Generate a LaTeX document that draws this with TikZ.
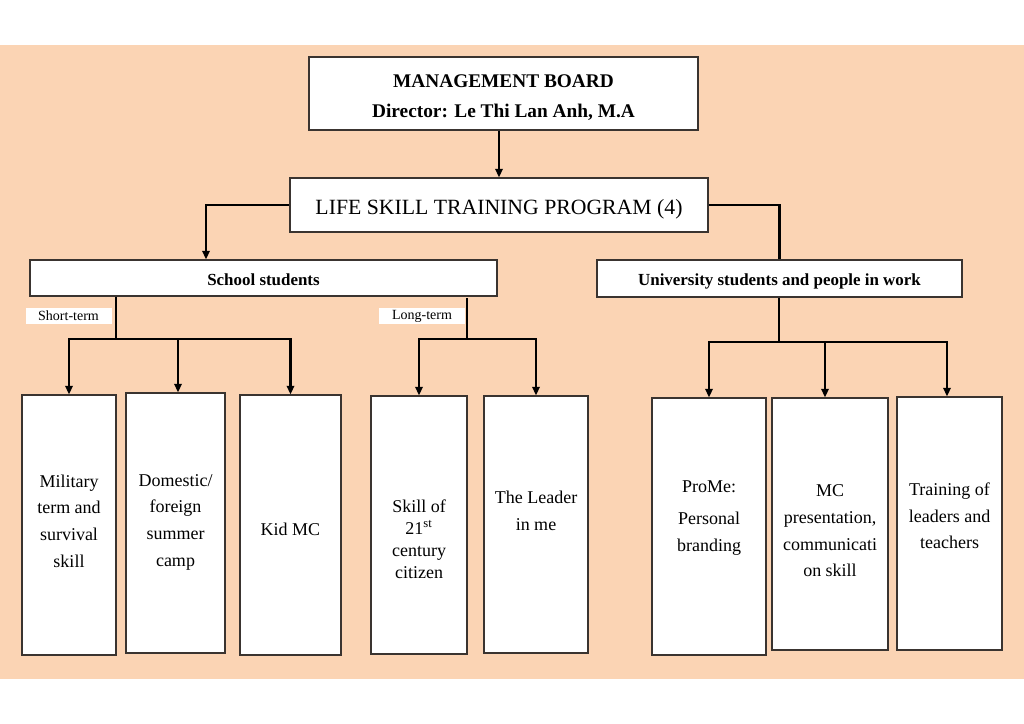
\documentclass[tikz,border=0pt]{standalone}
\usepackage{fontspec}
\setmainfont{Liberation Serif}
\usetikzlibrary{arrows.meta,calc}
\definecolor{peach}{HTML}{FBD4B4}
\definecolor{boxline}{HTML}{3A3430}
\begin{document}
\begin{tikzpicture}[x=0.75pt,y=-0.75pt,
  box/.style={draw=boxline, line width=0.8pt, fill=white, inner sep=0pt, align=center},
  conn/.style={line width=1.7pt, black},
  arr/.style={conn, -{Triangle[length=6.5pt,width=5.5pt]}},
  lbl/.style={align=center, font=\fontsize{13.5}{20}\selectfont, inner sep=0pt},
  tag/.style={fill=white, inner sep=0pt, font=\fontsize{10.5}{12}\selectfont},
]
\useasboundingbox (0,0) rectangle (1024,724);
\fill[white] (0,0) rectangle (1024,724);
\fill[peach] (0,45) rectangle (1024,679);

% top boxes
\node[box, line width=1pt, minimum width=389*0.75pt, minimum height=73*0.75pt] (mb) at (503.5,93.5) {};
\node[inner sep=0pt, align=center, font=\bfseries\fontsize{14.5}{22.5}\selectfont] (mbt) at (503.5,97.5)
      {MANAGEMENT BOARD\\Director: Le Thi Lan Anh, M.A};
\node[box, minimum width=418*0.75pt, minimum height=54*0.75pt] (life) at (499,205) {};
\node[inner sep=0pt, font=\fontsize{16.3}{20}\selectfont] (lifet) at (499,209) {LIFE SKILL TRAINING PROGRAM (4)};
\node[box, minimum width=467*0.75pt, minimum height=36*0.75pt] (school) at (263.5,278) {};
\node[inner sep=0pt, font=\bfseries\fontsize{12.7}{15}\selectfont] (schoolt) at (263.5,280) {School students};
\node[box, minimum width=365*0.75pt, minimum height=37*0.75pt] (univ) at (779.5,278.5) {};
\node[inner sep=0pt, font=\bfseries\fontsize{12.7}{15}\selectfont] (univt) at (779.5,281) {University students and people in work};

% tags
\node[tag, minimum width=86*0.75pt, minimum height=16*0.75pt] (st) at (68.5,316) {Short-term};
\node[tag, minimum width=86*0.75pt, minimum height=16*0.75pt] (lt) at (422,316) {Long-term};

% bottom boxes
\node[box, minimum width=94*0.75pt,  minimum height=260*0.75pt] (b1) at (69,525) {};
\node[box, minimum width=99*0.75pt,  minimum height=260*0.75pt] (b2) at (175.5,523) {};
\node[box, minimum width=101*0.75pt, minimum height=260*0.75pt] (b3) at (290.5,525) {};
\node[box, minimum width=96*0.75pt,  minimum height=258*0.75pt] (b4) at (419,525) {};
\node[box, minimum width=104*0.75pt, minimum height=257*0.75pt] (b5) at (536,524.5) {};
\node[box, minimum width=114*0.75pt, minimum height=257*0.75pt] (b6) at (709,526.5) {};
\node[box, minimum width=116*0.75pt, minimum height=252*0.75pt] (b7) at (830,524) {};
\node[box, minimum width=105*0.75pt, minimum height=253*0.75pt] (b8) at (949.5,523.5) {};

% labels
\node[lbl] (t1) at (69,521) {Military\\term and\\survival\\skill};
\node[lbl] (t2) at (175.5,522) {Domestic/\\foreign\\summer\\camp};
\node[lbl] (t3) at (290.5,529) {Kid MC};
\node[lbl, font=\fontsize{13.5}{16.5}\selectfont] (t4) at (419,539) {Skill of\\21\textsuperscript{st}\\century\\citizen};
\node[lbl] (t5) at (536,511) {The Leader\\in me};
\node[lbl] (t6) at (709,518) {ProMe:\\[4pt]Personal\\branding};
\node[lbl] (t7) at (830,531) {MC\\presentation,\\communicati\\on skill};
\node[lbl] (t8) at (949.5,516) {Training of\\leaders and\\teachers};

% connectors
\draw[arr] (mb.south -| life.north) -- (life.north);
\coordinate (sch) at ($(school.north)+(-57.5,0)$);
\draw[arr] (life.west) -| (sch);
\draw[conn] (life.east) -| (univ.north);

% short-term
\coordinate (sj) at (116,339);
\coordinate (b2t) at ($(b2.north)+(2.5,0)$);
\draw[conn] (school.south -| sj) -- (sj);
\draw[arr] (sj) -| (b1.north);
\draw[arr] (sj) -| (b3.north);
\draw[arr] (b2t |- sj) -- (b2t);

% long-term
\coordinate (lj) at (467,339);
\coordinate (ljs) at (467,298);
\draw[conn] (ljs) -- (lj);
\draw[arr] (lj) -| (b4.north);
\draw[arr] (lj) -| (b5.north);

% university
\coordinate (uj) at (779,342);
\coordinate (b7t) at ($(b7.north)+(-5,0)$);
\coordinate (b8t) at ($(b8.north)+(-2.5,0)$);
\draw[conn] (univ.south -| uj) -- (uj);
\draw[arr] (uj) -| (b6.north);
\draw[arr] (uj) -| (b8t);
\draw[arr] (b7t |- uj) -- (b7t);
\end{tikzpicture}
\end{document}
